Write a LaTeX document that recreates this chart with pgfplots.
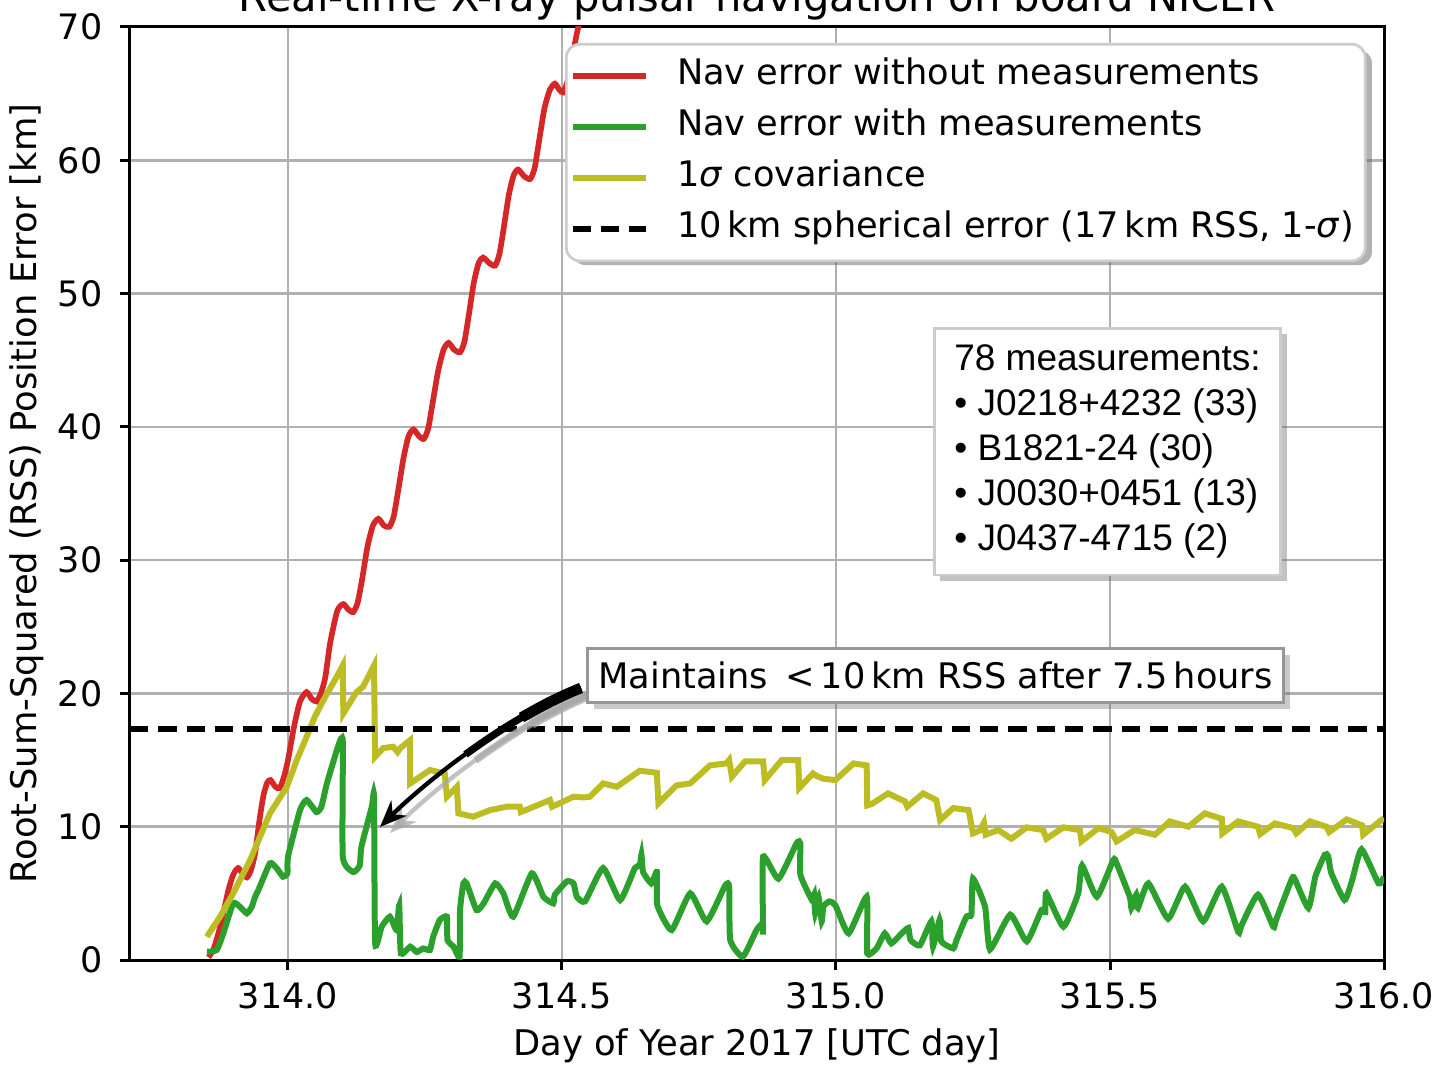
\documentclass[border=0pt]{standalone}
\usepackage{fontspec}
\setmainfont{DejaVu Sans}
\newfontfamily\arialfont{Liberation Sans}
\usepackage{pgfplots}
\pgfplotsset{compat=1.18}
\usetikzlibrary{shadows,arrows.meta}
\definecolor{mplred}{RGB}{214,39,40}
\definecolor{mplgreen}{RGB}{44,160,44}
\definecolor{mplolive}{RGB}{188,189,34}
\definecolor{gridgray}{RGB}{176,176,176}
\definecolor{legendgray}{RGB}{204,204,204}
\definecolor{annogray}{RGB}{150,150,150}
\begin{document}
\begin{tikzpicture}
\begin{axis}[
  scale only axis, width=376.2pt, height=279.9pt,
  xmin=313.7117, xmax=316, ymin=0, ymax=70,
  xtick={314,314.5,315,315.5,316}, xticklabels={314.0,314.5,315.0,315.5,316.0},
  ytick={0,10,20,30,40,50,60,70}, yticklabels={0,10,20,30,40,50,60,70},
  tick pos=left,
  tick align=outside, major tick length=3pt,
  every tick/.style={black, line width=0.9pt},
  axis line style={line width=0.9pt},
  grid=major, grid style={gridgray, line width=0.8pt},
  tick label style={font=\fontsize{10.5}{12.5}\selectfont, inner sep=0pt},
  xticklabel shift=3.6pt, yticklabel shift=5.1pt,
  clip mode=individual,
  legend cell align=left,
  legend image code/.code={\draw[#1] (0pt,0pt) -- (22pt,0pt);},
  legend style={at={(0.3469,0.983)}, anchor=north west, draw=legendgray, line width=0.8pt,
    rounded corners=4pt, fill=white, font=\fontsize{10.55}{12.5}\selectfont,
    inner xsep=1pt, inner ysep=1.9pt, row sep=0pt,
    nodes={text height=7.9pt, text depth=2.6pt, inner sep=2.4pt, anchor=west},
    /tikz/every odd column/.append style={column sep=6pt}},
]
% legend shadow
\fill[black!60, opacity=0.5, rounded corners=4pt] (rel axis cs:0.3525,0.9753) rectangle (rel axis cs:0.9904,0.7449);
\addplot[mplred, line width=1.7pt, smooth, tension=0.4] table {
313.855 0.2
313.864 0.8
313.873 2.0
313.882 3.5
313.891 5.2
313.900 6.4
313.909 6.9
313.917 6.5
313.925 6.2
313.932 6.7
313.940 8.0
313.948 10.5
313.955 12.3
313.962 13.3
313.968 13.5
313.977 13.0
313.985 12.9
313.993 13.8
314.000 15.0
314.011 17.5
314.022 19.4
314.034 20.1
314.043 19.6
314.052 19.4
314.060 20.0
314.068 21.2
314.077 23.8
314.090 26.2
314.101 26.7
314.110 26.3
314.119 26.1
314.127 26.8
314.135 28.5
314.145 31.0
314.155 32.6
314.165 33.1
314.175 32.6
314.185 32.5
314.193 33.3
314.201 35.2
314.211 37.7
314.220 39.3
314.229 39.8
314.239 39.3
314.248 39.1
314.256 39.9
314.264 41.8
314.274 44.2
314.284 45.8
314.293 46.3
314.303 45.8
314.314 45.6
314.322 46.4
314.330 48.4
314.339 50.8
314.348 52.3
314.356 52.7
314.367 52.3
314.378 52.1
314.386 53.0
314.394 55.0
314.403 57.4
314.412 58.9
314.420 59.3
314.431 58.8
314.442 58.6
314.450 59.4
314.458 61.4
314.468 63.9
314.478 65.3
314.487 65.75
314.495 65.3
314.502 65.1
314.510 65.9
314.518 67.5
314.527 69.5
314.536 71.0
};
\addlegendentry{\makebox[201.6pt][l]{Nav error without measurements}}
\addplot[mplgreen, line width=1.8pt, smooth, tension=0.3] table {
313.852 0.62
313.870 0.75
313.882 2.0
313.900 4.25
313.912 4.0
313.925 3.5
313.934 4.0
313.940 4.75
313.946 5.25
313.967 7.25
313.979 6.9
313.991 6.25
313.999 6.5
314.000 7.75
314.022 11.25
314.034 12.0
314.052 11.1
314.061 11.5
314.071 13.25
314.092 16.1
314.100 16.4
314.100 7.75
314.119 6.6
314.131 7.1
314.134 8.5
314.153 11.5
314.157 12.25
314.159 1.25
314.171 2.5
314.186 3.25
314.198 2.25
314.203 4.1
314.206 0.5
314.223 1.0
314.235 0.6
314.247 0.87
314.259 0.75
314.265 1.75
314.277 3.0
314.290 3.25
314.291 1.5
314.302 1.0
314.313 0.25
314.314 3.75
314.320 5.75
314.326 5.75
314.344 3.75
314.357 4.25
314.378 5.75
314.393 5.0
314.411 3.25
314.445 6.5
314.466 4.75
314.484 4.25
314.487 4.9
314.509 5.9
314.521 5.75
314.527 4.75
314.542 4.4
314.575 6.9
314.606 4.5
314.633 6.9
314.642 7.1
314.645 7.9
314.648 6.6
314.663 5.75
314.673 6.6
314.674 4.1
314.700 2.25
314.734 5.0
314.764 2.9
314.798 5.6
314.805 5.5
314.807 1.5
314.830 0.25
314.855 2.25
314.866 2.75
314.867 2.0
314.867 7.75
314.895 6.1
314.928 8.75
314.935 8.75
314.935 6.4
314.956 4.5
314.960 4.9
314.962 3.5
314.968 4.75
314.974 2.9
314.977 4.0
314.988 4.4
314.999 4.1
315.023 2.0
315.056 4.75
315.057 0.5
315.074 0.87
315.089 2.0
315.101 1.25
315.120 2.0
315.132 2.4
315.136 1.5
315.153 1.1
315.174 2.9
315.177 1.0
315.189 3.0
315.192 1.4
315.214 0.87
315.220 1.5
315.238 3.25
315.247 3.4
315.250 6.1
315.272 4.0
315.281 0.8
315.318 3.4
315.348 1.4
315.375 3.75
315.382 3.6
315.384 5.0
315.415 2.5
315.442 5.0
315.449 7.1
315.476 4.75
315.506 7.5
315.512 7.25
315.536 4.75
315.539 3.9
315.548 4.9
315.551 3.9
315.570 5.75
315.606 3.1
315.637 5.5
315.670 2.9
315.704 5.5
315.734 2.1
315.740 2.6
315.770 4.9
315.798 2.5
315.803 3.0
315.832 6.1
315.838 6.0
315.862 3.9
315.875 6.3
315.892 7.9
315.898 7.8
315.904 6.5
315.928 4.5
315.942 6.0
315.959 8.3
315.990 5.75
316.000 6.25
};
\addlegendentry{Nav error with measurements}
\addplot[mplolive, line width=1.8pt] table {
313.852 1.75
313.876 3.25
313.900 5.0
313.931 7.5
313.967 11.0
313.998 13.0
314.016 15.0
314.034 16.75
314.049 18.25
314.068 19.75
314.089 21.25
314.100 22.1
314.101 18.5
314.125 20.1
314.137 20.5
314.157 22.1
314.159 15.25
314.174 15.9
314.192 16.0
314.200 15.6
314.205 15.9
314.223 16.5
314.223 13.25
314.241 13.75
314.259 14.25
314.286 14.0
314.290 12.25
314.308 13.0
314.311 11.0
314.338 10.75
314.369 11.25
314.399 11.5
314.423 11.5
314.425 11.1
314.478 12.0
314.482 11.5
314.521 12.25
314.540 12.2
314.551 12.25
314.575 13.25
314.600 13.0
314.642 14.2
314.673 14.05
314.676 11.75
314.709 13.1
314.734 13.25
314.770 14.6
314.800 14.75
314.805 15.0
314.810 13.75
314.834 14.9
314.867 14.9
314.870 13.5
314.901 15.0
314.931 15.0
314.933 12.9
314.958 14.0
314.965 13.8
314.977 13.6
314.999 13.5
315.032 14.75
315.056 14.6
315.057 11.6
315.065 11.7
315.095 12.5
315.110 12.2
315.126 11.9
315.130 11.5
315.159 12.5
315.183 12.0
315.190 10.5
315.214 11.4
315.242 11.25
315.250 9.5
315.262 9.7
315.270 10.3
315.273 9.4
315.296 9.75
315.320 9.1
315.348 9.95
315.378 9.75
315.384 9.1
315.415 9.95
315.445 9.75
315.448 8.9
315.479 9.9
315.503 9.6
315.512 8.9
315.545 9.75
315.582 9.4
315.609 10.4
315.643 10.0
315.673 11.0
315.704 10.6
315.705 9.5
315.734 10.4
315.770 10.0
315.774 9.45
315.801 10.25
315.834 9.9
315.840 9.5
315.865 10.4
315.895 10.0
315.900 9.6
315.932 10.55
315.960 10.1
315.962 9.4
315.995 10.5
316.000 10.6
};
\addlegendentry{1\textit{σ} covariance}
\addplot[black, line width=1.8pt, dash pattern=on 5.5pt off 3pt] coordinates {(313.7117,17.32) (316,17.32)};
\addlegendentry{10\,km spherical error (17\,km RSS, 1-\textit{σ})}

% annotation arrow shadow
\begin{scope}[shift={(3pt,-1.8pt)}, black!35, opacity=0.7]
\draw[line width=1.3pt, -{Stealth[length=8pt, width=6.5pt]}] (axis cs:314.5347,20.41) .. controls (axis cs:314.3887,18.01) and (axis cs:314.2409,12.98) .. (axis cs:314.1679,9.98);
\draw[line width=2.2pt] (axis cs:314.5347,20.41) .. controls (axis cs:314.4617,19.21) and (axis cs:314.3883,17.35) .. (axis cs:314.3239,15.42);
\draw[line width=3.2pt] (axis cs:314.5347,20.41) .. controls (axis cs:314.4982,19.81) and (axis cs:314.4615,19.04) .. (axis cs:314.4261,18.19);
\end{scope}
% annotation arrow
\draw[black, line width=1.3pt, -{Stealth[length=8pt, width=6.5pt]}] (axis cs:314.5347,20.41) .. controls (axis cs:314.3887,18.01) and (axis cs:314.2409,12.98) .. (axis cs:314.1679,9.98);
\draw[black, line width=2.2pt] (axis cs:314.5347,20.41) .. controls (axis cs:314.4617,19.21) and (axis cs:314.3883,17.35) .. (axis cs:314.3239,15.42);
\draw[black, line width=3.2pt] (axis cs:314.5347,20.41) .. controls (axis cs:314.4982,19.81) and (axis cs:314.4615,19.04) .. (axis cs:314.4261,18.19);

\node[draw=annogray, line width=0.9pt, fill=white, minimum width=208.5pt, minimum height=16.2pt,
  font=\fontsize{10.55}{12.5}\selectfont,
  drop shadow={shadow xshift=2pt, shadow yshift=-2pt, opacity=0.35, fill=black!60}]
  at (axis cs:315.1816,21.38) {Maintains\enspace<\,10\,km RSS after 7.5\,hours};

\node[draw=legendgray, line width=0.8pt, fill=white, anchor=north west, inner xsep=6pt, inner ysep=5pt,
  align=left, font=\arialfont\fontsize{11.1}{13.5}\selectfont,
  drop shadow={shadow xshift=1.8pt, shadow yshift=-1.8pt, opacity=0.4, fill=black!60}]
  at (axis cs:315.177,47.5) {78 measurements:\\• J0218+4232 (33)\\• B1821-24 (30)\\• J0030+0451 (13)\\• J0437-4715 (2)};
\end{axis}
\node[rotate=90, anchor=center, font=\fontsize{10.6}{12.5}\selectfont] at ([xshift=-30.9pt]current axis.west) {Root-Sum-Squared (RSS) Position Error [km]};
\node[anchor=base, font=\fontsize{10.6}{12.5}\selectfont] at ([yshift=-28.5pt]current axis.south) {Day of Year 2017 [UTC day]};
\node[anchor=base, font=\fontsize{12.5}{15}\selectfont] at ([yshift=4.5pt]current axis.north) {Real-time X-ray pulsar navigation on board NICER};
\pgfresetboundingbox
\path[use as bounding box] ([shift={(-39pt,-31.2pt)}]current axis.south west) rectangle ([shift={(15.9pt,8.1pt)}]current axis.north east);
\end{tikzpicture}
\end{document}
